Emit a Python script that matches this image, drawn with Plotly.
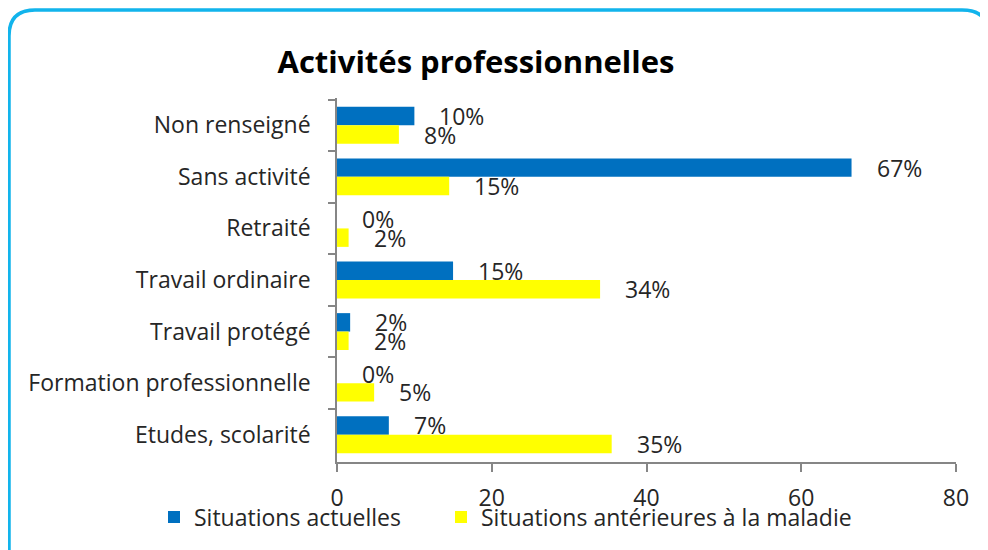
import plotly.graph_objects as go

# ---- data ----
categories = ["Non renseigné", "Sans activité", "Retraité", "Travail ordinaire",
              "Travail protégé", "Formation professionnelle", "Etudes, scolarité"]
series_names = ["Situations actuelles", "Situations antérieures à la maladie"]
actuelles = [10, 66.5, 0, 15, 1.7, 0, 6.7]
anterieures = [8, 14.5, 1.5, 34, 1.5, 4.8, 35.5]
labels_actuelles = ["10%", "67%", "0%", "15%", "2%", "0%", "7%"]
labels_anterieures = ["8%", "15%", "2%", "34%", "2%", "5%", "35%"]
x_ticks = [0, 20, 40, 60, 80]

# page body has an 8px margin: figure pixel = screen pixel - 8
OFF = 8
W, H = 988 - OFF, 550 - OFF
L = 337 - OFF
T = 98 - OFF
R = W - (956 - OFF)
B = H - (462 - OFF)
PW, PH = W - L - R, H - T - B

def px(x):  # screen x -> paper
    return (x - OFF - L) / PW

def py(y):  # screen y -> paper
    return 1 - (y - OFF - T) / PH

FONT = "Open Sans"
TXT = "#262626"
BLUE = "#0070C0"
YELLOW = "#FFFF00"
AX = "#868686"

fig = go.Figure()
fig.add_trace(go.Bar(y=categories, x=actuelles, name=series_names[0], orientation="h",
                     marker=dict(color=BLUE, line=dict(width=0)), legend="legend",
                     showlegend=True))
fig.add_trace(go.Bar(y=categories, x=anterieures, name=series_names[1], orientation="h",
                     marker=dict(color=YELLOW, line=dict(width=0)), legend="legend2",
                     showlegend=True))

annotations = []
for vals, labs, ys in ((actuelles, labels_actuelles, 9.3), (anterieures, labels_anterieures, -9.3)):
    for c, v, t in zip(categories, vals, labs):
        annotations.append(dict(x=v, y=c, xref="x", yref="y", text=t, showarrow=False,
                                xanchor="left", yanchor="middle", xshift=23, yshift=ys,
                                font=dict(family=FONT, size=23, color=TXT)))

path = (f"M {px(9)},{py(620)} L {px(9)},{py(36)} Q {px(9)},{py(10)} {px(35)},{py(10)} "
        f"L {px(962)},{py(10)} Q {px(989)},{py(10)} {px(989)},{py(36)} L {px(989)},{py(620)}")

legend_common = dict(orientation="h", yanchor="middle", y=py(517),
                     font=dict(family=FONT, size=23, color=TXT), bgcolor="rgba(0,0,0,0)",
                     itemwidth=30, visible=True)

fig.update_layout(
    width=W, height=H,
    showlegend=True,
    margin=dict(l=L, r=R, t=T, b=B, autoexpand=False),
    paper_bgcolor="white", plot_bgcolor="white",
    barmode="group", bargap=0.285, bargroupgap=0,
    title=dict(text="<b>Activités professionnelles</b>", x=(476 - OFF) / W, xanchor="center",
               y=1 - (62 - OFF) / H, yanchor="middle", yref="container",
               font=dict(family=FONT, size=31, color="black")),
    xaxis=dict(range=[0, 80], tickvals=x_ticks, ticktext=[str(v) for v in x_ticks],
               showgrid=False, zeroline=False, showline=True, linecolor=AX, linewidth=1.5,
               ticks="outside", ticklen=8, tickcolor=AX, tickwidth=1.5,
               ticklabelstandoff=7,
               tickfont=dict(family=FONT, size=23, color=TXT)),
    yaxis=dict(autorange="reversed", type="category", showgrid=False, zeroline=False,
               showline=True, linecolor=AX, linewidth=1.5,
               ticks="outside", ticklen=7, tickcolor=AX, tickwidth=1.5,
               tickson="boundaries", ticklabelstandoff=20,
               tickfont=dict(family=FONT, size=23, color=TXT)),
    legend=dict(x=px(154), xanchor="left", **legend_common),
    legend2=dict(x=px(441), xanchor="left", **legend_common),
    annotations=annotations,
    shapes=[dict(type="path", path=path, xref="paper", yref="paper",
                 line=dict(color="#12B4EC", width=3.5), layer="above")],
)

fig.write_html("out.html")
